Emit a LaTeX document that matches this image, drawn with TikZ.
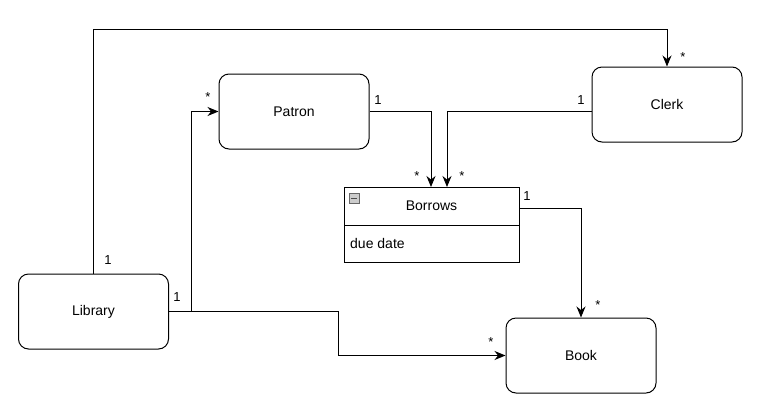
\documentclass[tikz,border=0pt]{standalone}
\usepackage{fontspec}
\setmainfont{Liberation Sans}
\usetikzlibrary{arrows.meta}
\begin{document}
\begin{tikzpicture}[x=1pt,y=-1pt,
 box/.style={draw, line width=1pt, rounded corners=10pt, minimum width=150pt, minimum height=75pt, font=\fontsize{14}{16}\selectfont, inner sep=0pt},
 conn/.style={line width=1pt, -{Stealth[length=11pt,width=9pt]}},
 lbl/.style={font=\fontsize{13}{15}\selectfont, inner sep=0pt}
]
\useasboundingbox (0,0) rectangle (762,413);
\node[box] (patron) at (294,111.5) {Patron};
\node[box] (clerk) at (667,104.5) {Clerk};
\node[box] (library) at (93.5,311.5) {Library};
\node[box] (book) at (581,355.5) {Book};
\node[draw, line width=1pt, minimum width=175pt, minimum height=75pt, anchor=north west, inner sep=0pt] (borrows) at (344,187) {};
\node[font=\fontsize{14}{16}\selectfont, inner sep=0pt] (btitle) at (431.5,206) {Borrows};
\node[font=\fontsize{14}{16}\selectfont, inner sep=0pt, anchor=west] (battr) at (350,243) {due date};
\coordinate (div) at (0,225);
\draw[line width=1pt] (borrows.west |- div) -- (borrows.east |- div);
\node[draw=gray!80!black, fill=gray!40, minimum size=10pt, inner sep=0pt] (minus) at (354,198) {};
\draw[line width=1pt, black!70] ([xshift=2pt]minus.west) -- ([xshift=-2pt]minus.east);
% junctions
\coordinate (top) at (0,29);
\coordinate (j1) at (191,0);
\coordinate (j2) at (338,0);
\coordinate (b1) at (431,187);
\coordinate (b2) at (447,187);
\coordinate (r1) at (0,208);
% connectors
\draw[conn] (library.north) -- (library.north |- top) -- (clerk.north |- top) -- (clerk.north);
\draw[conn] (library.east) -| (j1 |- patron.west) -- (patron.west);
\draw[conn] (library.east) -| (j2 |- book.west) -- (book.west);
\draw[conn] (patron.east) -| (b1);
\draw[conn] (clerk.west |- patron.east) -| (b2);
\draw[conn] (borrows.east |- r1) -| (book.north);
% labels
\node[lbl] (l1) at (108,260) {1};
\node[lbl] (l2) at (683,57) {*};
\node[lbl] (l3) at (177,297) {1};
\node[lbl] (l4) at (208,97) {*};
\node[lbl] (l5) at (491,342) {*};
\node[lbl] (l6) at (378,100) {1};
\node[lbl] (l7) at (417,176) {*};
\node[lbl] (l8) at (581,100) {1};
\node[lbl] (l9) at (462,176) {*};
\node[lbl] (l10) at (527,196) {1};
\node[lbl] (l11) at (598,305) {*};
\end{tikzpicture}
\end{document}
